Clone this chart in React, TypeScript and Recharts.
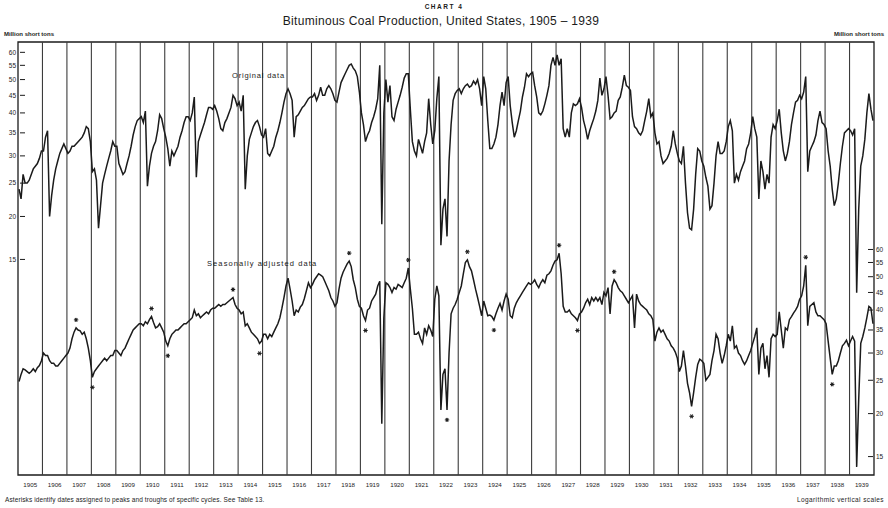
import React from 'react';
import { ComposedChart, Line, XAxis, YAxis, ReferenceLine, ReferenceArea, Scatter } from 'recharts';

// ---- categories ----
const years: number[] = [
  1905, 1906, 1907, 1908, 1909, 1910, 1911, 1912, 1913, 1914, 1915, 1916,
  1917, 1918, 1919, 1920, 1921, 1922, 1923, 1924, 1925, 1926, 1927, 1928,
  1929, 1930, 1931, 1932, 1933, 1934, 1935, 1936, 1937, 1938, 1939,
];

// ---- Original data, million short tons, monthly Jan..Dec ----
const original: number[] = [
  24, 22.5, 26.5, 25, 25, 25.5, 26.5, 27.5, 28, 28.5, 29.5, 31, // 1905
  31, 34, 35.5, 20, 23, 25.5, 27.5, 29, 30.5, 31.5, 32.5, 31.5, // 1906
  30.5, 31, 32, 32, 32.5, 33, 33.5, 34, 35, 36.5, 36, 33, // 1907
  27, 27.5, 25.5, 18.5, 21.5, 25, 26.5, 28, 29.5, 31, 33, 32, // 1908
  32, 28.5, 27.5, 26.5, 27, 28.5, 30, 32, 34.5, 36.5, 38, 38.5, // 1909
  39, 37.5, 40.5, 24.5, 28, 30.5, 32, 33, 35.5, 39.5, 38.5, 36, // 1910
  34, 31.5, 28, 31, 30, 31, 32, 34, 35.5, 37.5, 39, 39, // 1911
  38, 40, 44.5, 26, 33, 34.5, 36, 37.5, 39.5, 41.5, 41.5, 41, // 1912
  42, 40.5, 38.5, 36, 35.5, 37.5, 38.5, 40, 41.5, 45, 44, 42, // 1913
  43, 40.5, 45, 24, 30, 33.5, 35, 36.5, 37.5, 38, 36.5, 34.5, // 1914
  34, 36, 30.5, 30, 31, 32, 34, 35.5, 37.5, 40, 43, 45.5, // 1915
  47, 45.5, 43.5, 34, 39, 39.5, 40.5, 41.5, 42, 43, 44, 44.5, // 1916
  44.5, 45.5, 43.5, 45, 47.5, 45, 45, 47, 48, 47, 45.5, 43.5, // 1917
  43, 46, 49, 50.5, 52, 53.5, 55, 55.5, 54, 53, 51, 46, // 1918
  40, 37, 33, 34.5, 35.5, 37.5, 39, 41, 44, 55, 19, 40, // 1919
  50, 43, 48, 39, 38, 41, 43, 45, 47.5, 50.5, 52, 52, // 1920
  41, 33, 31, 30, 33.5, 32, 30.5, 33, 35, 44, 37, 32.5, // 1921
  35.5, 44, 51, 16.5, 21, 22.5, 17.5, 29, 37, 43.5, 45.5, 46.5, // 1922
  47, 45.5, 47, 48, 48.5, 47.5, 48, 49.5, 48.5, 50, 47, 42, // 1923
  51, 47, 38, 31.5, 31.5, 32.5, 34, 37, 42, 46, 42, 49, // 1924
  51, 42, 37.5, 34, 35.5, 38, 40.5, 44.5, 47.5, 52, 51, 52, // 1925
  52.5, 48, 44.5, 40, 39.5, 40.5, 42.5, 45, 48, 55, 58, 55, // 1926
  59, 55, 57.5, 36, 34, 36, 34, 40, 42.5, 42, 42.5, 44, // 1927
  41.5, 38, 36, 33.5, 35.5, 37, 38.5, 40.5, 43.5, 50.5, 45, 47, // 1928
  51, 45, 38.5, 39, 40, 40.5, 43.5, 44.5, 47.5, 51.5, 48, 47.5, // 1929
  46.5, 39, 36.5, 36, 35, 34.5, 35.5, 38, 40.5, 44, 39, 40, // 1930
  35, 32.5, 33, 30, 28.5, 29, 29.5, 30.5, 32, 35.5, 32.5, 30.5, // 1931
  29, 28.5, 32, 25, 20.5, 18.5, 18.3, 21, 26.5, 31.5, 31, 29, // 1932
  28, 26, 24.5, 21, 21.5, 25, 30, 33, 30.5, 30.5, 31, 33, // 1933
  36.5, 38, 35.5, 25, 26.5, 25.5, 27, 28, 29, 31.5, 32.5, 35, // 1934
  39, 36, 34, 22.5, 29, 27, 24, 26.5, 25, 34, 37, 36, // 1935
  38, 41, 35, 31, 29, 30.5, 33, 37, 40, 43, 43.5, 45, // 1936
  44, 46, 51, 27, 31, 32, 33, 34.5, 38, 40.5, 37.5, 37, // 1937
  36, 31, 28, 24, 21.5, 22.5, 25, 28.5, 32, 35, 35.5, 36, // 1938
  35.5, 34.5, 36, 12, 21, 28, 30, 33.5, 40, 45.5, 41, 38, // 1939
];

// ---- Seasonally adjusted data, million short tons, monthly Jan..Dec ----
const adjusted: number[] = [
  24.8, 26, 27, 26.8, 26.5, 26.2, 26.5, 27, 26.5, 27.2, 27.6, 28.5, // 1905
  30, 29.5, 29.5, 28.5, 28, 28, 27.5, 27.5, 28, 28.5, 29, 29.5, // 1906
  30, 31, 33, 34.5, 35.5, 35, 34.8, 34, 34.5, 33, 31, 28.5, // 1907
  25.5, 26.5, 27, 27.5, 28, 28.5, 29, 28.5, 29, 29.5, 29.5, 30.5, // 1908
  30.5, 30, 29.5, 30.5, 31, 32, 33, 34, 35, 35.5, 36, 36.5, // 1909
  36.5, 36, 37, 36.5, 37.5, 38.3, 36.8, 35.5, 35.8, 36.5, 35.5, 34.5, // 1910
  32.5, 31.5, 33, 34, 34.5, 35, 35, 35.5, 36, 36.5, 36.5, 37, // 1911
  37.5, 38, 40, 38.5, 39, 38, 38.5, 39, 39.5, 39, 40, 40.5, // 1912
  40.5, 41, 41.5, 41, 41.5, 41.5, 42, 42.5, 43, 43.5, 41.5, 40.5, // 1913
  40, 39, 39.5, 36, 36.5, 35.5, 34.5, 34, 33.5, 33, 32, 32.5, // 1914
  34, 34, 33, 34, 33.5, 34.5, 35.5, 36.5, 38, 40.5, 43.5, 47, // 1915
  49.5, 46, 42.5, 38.5, 40, 39.5, 40.8, 41.5, 43.2, 45.5, 48, 46.5, // 1916
  47.5, 49, 50, 51, 50.5, 50, 48.5, 47, 45.5, 43.5, 42.5, 41, // 1917
  42, 46, 49.5, 51.5, 53, 54.5, 55.5, 53.5, 49, 46.5, 43, 41, // 1918
  40.5, 38.5, 37.3, 40, 40.5, 42.5, 43.5, 44.5, 47, 48.5, 18.7, 38, // 1919
  48, 47.5, 46.5, 45, 46.5, 46, 47.5, 47, 46.5, 48, 49.5, 53, // 1920
  46, 40.5, 34, 34, 34.5, 33, 32, 35.5, 34, 36, 35, 33.5, // 1921
  43, 47, 44, 20.5, 26, 27, 20.5, 30, 39, 40.5, 41.5, 43, // 1922
  45, 47, 51, 55, 56, 53.5, 52, 49, 46, 43.5, 41, 38.5, // 1923
  42.5, 40.5, 38.5, 38.7, 38.3, 37.4, 39, 40.5, 41.8, 40, 42.5, 44.5, // 1924
  43, 38.5, 38, 40.5, 42, 43, 44, 45, 46, 47, 48, 47.5, // 1925
  48, 49, 47.5, 46.5, 48, 49, 48, 50.5, 51, 52, 54, 55.5, // 1926
  56, 58.5, 51, 41, 39.5, 39.5, 40, 39, 38.5, 38, 37.3, 39, // 1927
  39.5, 40.5, 42, 43, 41.5, 43.5, 42.5, 43.5, 42.5, 43.5, 41.5, 45, // 1928
  44, 46.5, 39, 47, 49, 48, 46.5, 45.5, 45, 44, 43, 42, // 1929
  43, 44, 35.5, 44.5, 42.5, 41.5, 41, 40.5, 40, 39, 38.5, 37.5, // 1930
  32.5, 34.5, 35.5, 34.5, 35, 34, 33, 32.5, 31.5, 31, 30.2, 29, // 1931
  26.5, 27.5, 30.5, 27.5, 24.5, 23, 21, 23, 25.5, 27.8, 28.8, 28.5, // 1932
  28, 25, 25.5, 26, 28.5, 30.5, 34, 33, 30, 28, 29.5, 31.5, // 1933
  34, 32.5, 36, 31, 31.5, 30, 29.5, 28.5, 27.8, 28.5, 29.5, 30.5, // 1934
  32, 33.5, 35.5, 26, 31, 32, 27, 29.5, 25.5, 33, 34, 33.5, // 1935
  34, 39.5, 35, 31, 35.5, 35, 37.5, 38.3, 39.2, 40, 41, 43, // 1936
  44, 47, 54, 36, 41, 41.5, 42, 39.5, 38.5, 38.5, 38, 37.5, // 1937
  36.5, 32.5, 29, 26, 27.5, 27.5, 28.5, 30, 31.5, 32, 32.7, 31.5, // 1938
  32.5, 33.5, 32.5, 14, 22, 32, 33.5, 35.5, 38, 41, 40.5, 36.5, // 1939
];

// ---- specific-cycle turning points of the adjusted series: [year, month 1-12] ----
const peaks: [number, number][] = [
  [1907, 5], [1910, 6], [1913, 10], [1918, 7], [1920, 12], [1923, 5], [1927, 2], [1929, 5], [1937, 3],
];
const troughs: [number, number][] = [
  [1908, 1], [1911, 2], [1914, 11], [1919, 3], [1922, 7], [1924, 6], [1927, 11], [1932, 7], [1938, 4],
];

// ---- tick labels ----
const scaleTicks: number[] = [15, 20, 25, 30, 35, 40, 45, 50, 55, 60];

// ---- build table ----
const rows = years.flatMap((yr, i) =>
  original.slice(i * 12, i * 12 + 12).map((v, m) => ({
    t: yr + (m + 0.5) / 12,
    orig: v,
    adj: adjusted[i * 12 + m],
  }))
);
const stars = [
  ...peaks.map(([y, m]) => ({ t: y + (m - 0.5) / 12, v: adjusted[(y - 1905) * 12 + m - 1], kind: 'peak' })),
  ...troughs.map(([y, m]) => ({ t: y + (m - 0.5) / 12, v: adjusted[(y - 1905) * 12 + m - 1], kind: 'trough' })),
];
const yearCenters = years.map((y) => y + 0.5);
const yearLines = [...years.slice(1)];

const FONT = '"Liberation Sans", Arial, sans-serif';
const INK = '#1b1b1b';

const LeftTick = (props: any) => {
  const { x, y, payload } = props;
  return (
    <g>
      <line x1={x + 2} x2={x + 7} y1={y} y2={y} stroke={INK} strokeWidth={1} />
      <text x={x - 2} y={y} dy={2.3} textAnchor="end" fontSize={6.5} fontFamily={FONT} fill={INK}>
        {payload.value}
      </text>
    </g>
  );
};
const RightTick = (props: any) => {
  const { x, y, payload } = props;
  return (
    <g>
      <line x1={x - 6} x2={x - 1} y1={y} y2={y} stroke={INK} strokeWidth={1} />
      <text x={x + 2} y={y} dy={2.3} textAnchor="start" fontSize={6.5} fontFamily={FONT} fill={INK}>
        {payload.value}
      </text>
    </g>
  );
};
const YearTick = (props: any) => {
  const { x, y, payload } = props;
  return (
    <text x={x} y={y + 12} textAnchor="middle" fontSize={6.2} fontFamily={FONT} fill={INK}>
      {Math.floor(payload.value)}
    </text>
  );
};
const StarShape = (props: any) => {
  const { cx, cy, payload } = props;
  if (cx == null || cy == null) return null;
  const c = cy + (payload.kind === 'peak' ? -8 : 10);
  return (
    <g stroke={INK} strokeWidth={1.1}>
      <line x1={cx - 2.2} x2={cx + 2.2} y1={c} y2={c} />
      <line x1={cx - 1.1} x2={cx + 1.1} y1={c - 1.9} y2={c + 1.9} />
      <line x1={cx + 1.1} x2={cx - 1.1} y1={c - 1.9} y2={c + 1.9} />
    </g>
  );
};

const txt = (s: React.CSSProperties): React.CSSProperties => ({
  position: 'absolute',
  fontFamily: FONT,
  color: INK,
  lineHeight: 1,
  whiteSpace: 'nowrap',
  ...s,
});

export default function App() {
  return (
    <div style={{ position: 'absolute', left: 0, top: 0, width: 888, height: 508, background: '#fff' }}>
      <ComposedChart width={888} height={508} data={rows} margin={{ top: 42, right: 0, bottom: 0, left: 0 }}>
        <XAxis
          dataKey="t"
          type="number"
          domain={[1905, 1940]}
          ticks={yearCenters}
          interval={0}
          tick={<YearTick />}
          tickLine={false}
          tickSize={0}
          tickMargin={0}
          axisLine={false}
          height={33}
          allowDataOverflow
        />
        <YAxis
          yAxisId="left"
          orientation="left"
          scale="log"
          type="number"
          domain={[3.543, 64.3]}
          ticks={scaleTicks}
          interval={0}
          tick={<LeftTick />}
          tickLine={false}
          tickSize={0}
          tickMargin={0}
          axisLine={false}
          width={18}
          allowDataOverflow
        />
        <YAxis
          yAxisId="right"
          orientation="right"
          scale="log"
          type="number"
          domain={[13.26, 240.6]}
          ticks={scaleTicks}
          interval={0}
          tick={<RightTick />}
          tickLine={false}
          tickSize={0}
          tickMargin={0}
          axisLine={false}
          width={14}
          allowDataOverflow
        />
        {yearLines.map((y) => (
          <ReferenceLine key={y} x={y} yAxisId="left" stroke="#3c3c3c" strokeWidth={1.1} ifOverflow="visible" />
        ))}
        <ReferenceArea x1={1905} x2={1940} yAxisId="left" fill="none" stroke={INK} strokeWidth={1.3} ifOverflow="visible" />
        <Line
          yAxisId="left"
          dataKey="orig"
          type="linear"
          stroke={INK}
          strokeWidth={1.5}
          dot={false}
          isAnimationActive={false}
        />
        <Line
          yAxisId="right"
          dataKey="adj"
          type="linear"
          stroke={INK}
          strokeWidth={1.5}
          dot={false}
          isAnimationActive={false}
        />
        <Scatter yAxisId="right" data={stars} dataKey="v" shape={<StarShape />} isAnimationActive={false} />
      </ComposedChart>

      <div style={txt({ left: 0, width: 888, top: 4, textAlign: 'center', fontSize: 6.5, letterSpacing: 1.5, fontWeight: 700 })}>
        CHART 4
      </div>
      <div style={txt({ left: 0, width: 882, top: 15, textAlign: 'center', fontSize: 12, letterSpacing: 0.3 })}>
        Bituminous Coal Production, United States, 1905 – 1939
      </div>
      <div style={txt({ left: 4, top: 31, fontSize: 6, fontWeight: 700 })}>Million short tons</div>
      <div style={txt({ right: 4, top: 31, fontSize: 6, fontWeight: 700 })}>Million short tons</div>
      <div style={txt({ left: 232, top: 72, fontSize: 7.5, letterSpacing: 0.8 })}>Original data</div>
      <div style={txt({ left: 207, top: 260, fontSize: 7.5, letterSpacing: 1.1 })}>Seasonally adjusted data</div>
      <div style={txt({ left: 5, top: 497, fontSize: 6.5, letterSpacing: 0.1 })}>
        Asterisks identify dates assigned to peaks and troughs of specific cycles. See Table 13.
      </div>
      <div style={txt({ right: 4, top: 497, fontSize: 6.5, letterSpacing: 0.4 })}>Logarithmic vertical scales</div>
    </div>
  );
}
